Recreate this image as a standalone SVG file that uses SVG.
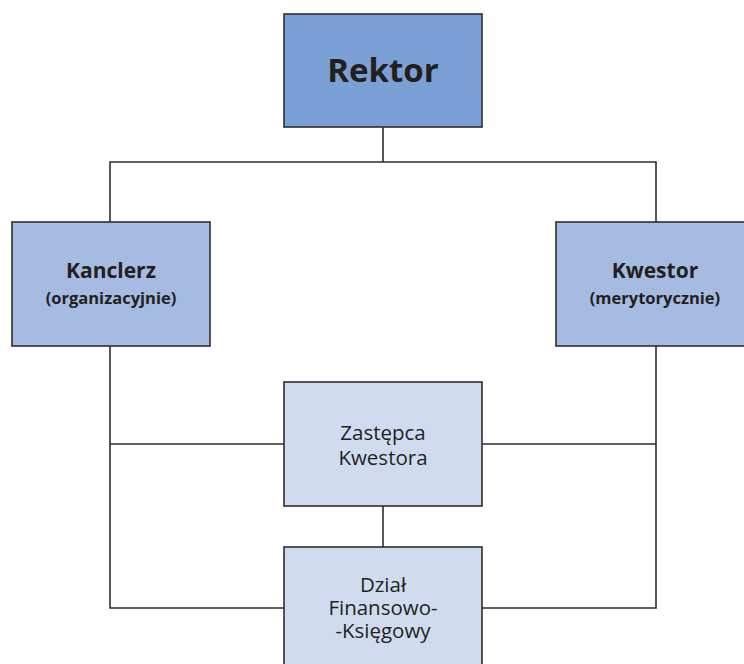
<svg xmlns="http://www.w3.org/2000/svg" width="744" height="664" viewBox="0 0 744 664">
<style>
.box{stroke:#2e2d2f;stroke-width:1.6}
.l1{fill:#7ba0d5}
.l2{fill:#a6bbe1}
.l3{fill:#d0dbef}
.con{stroke:#2e2d2f;stroke-width:1.6;fill:none}
text{font-family:"Open Sans","Noto Sans","DejaVu Sans",sans-serif;fill:#231f20;text-anchor:middle}
.b{font-weight:bold}
.r{font-size:20.5px}
</style>
<rect width="744" height="664" fill="#ffffff"/>
<g id="connectors">
<path class="con" d="M383,127 V162 M110,222 V162 H656 V222"/>
<path class="con" d="M110,346 V608 H284 M110,444 H284"/>
<path class="con" d="M656,346 V608 H482 M656,444 H482"/>
<path class="con" d="M383,506 V547"/>
</g>
<g id="rektor">
<rect class="box l1" x="284" y="14" width="198" height="113"/>
<text class="b" x="383" y="82" font-size="33">Rektor</text>
</g>
<g id="kanclerz">
<rect class="box l2" x="12" y="222" width="198" height="124"/>
<text class="b" x="111" y="278" font-size="21">Kanclerz</text>
<text class="b" x="111" y="304" font-size="16.5">(organizacyjnie)</text>
</g>
<g id="kwestor">
<rect class="box l2" x="556" y="222" width="198" height="124"/>
<text class="b" x="655" y="278" font-size="21">Kwestor</text>
<text class="b" x="655" y="304" font-size="16.5">(merytorycznie)</text>
</g>
<g id="zastepca">
<rect class="box l3" x="284" y="382" width="198" height="124"/>
<text class="r" x="383" y="440">Zastępca</text>
<text class="r" x="383" y="465">Kwestora</text>
</g>
<g id="dzial">
<rect class="box l3" x="284" y="547" width="198" height="124"/>
<text class="r" x="383" y="592">Dział</text>
<text class="r" x="383" y="615">Finansowo-</text>
<text class="r" x="383" y="638">-Księgowy</text>
</g>
</svg>
